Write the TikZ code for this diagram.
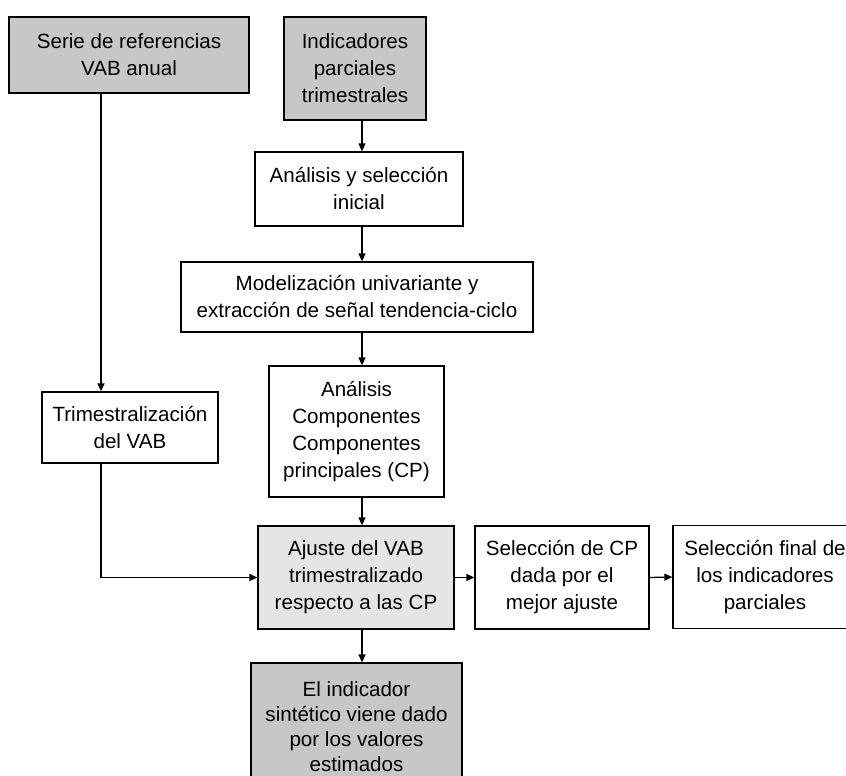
\documentclass[tikz,border=0pt]{standalone}
\usepackage{fontspec}
\setmainfont{Liberation Sans}
\usepackage{tikz}
\usetikzlibrary{arrows.meta}
\usetikzlibrary{positioning}

\begin{document}
\begin{tikzpicture}[->, >={Triangle[length=8pt, width=7pt]}, x=1pt, y=-1pt, line width=1.3pt,
	stepbox/.style={rectangle, draw, fill=white, align=center, inner sep=2pt,
				font=\fontsize{20.6}{27}\selectfont},
	refbox/.style={stepbox, fill=black!22},
	fitbox/.style={stepbox, fill=black!10},
]
\useasboundingbox (0,0) rectangle (846,776);
\clip (0,0) rectangle (846,776);
\coordinate (mid)  at (362,0);
\coordinate (side) at (101,0);
\node [refbox, minimum width=240pt, minimum height=76pt]  (serie)  at (129,55)      {Serie de referencias\\VAB anual};
\node [refbox, minimum width=142pt, minimum height=103pt] (indic)  at (355,68.5)    {Indicadores\\parciales\\trimestrales};
\node [stepbox, minimum width=208pt, minimum height=74pt] (anal)   at (359,189)     {Análisis y selección\\inicial};
\node [stepbox, minimum width=352pt, minimum height=70pt] (model)  at (357,297)     {Modelización univariante y\\extracción de señal tendencia-ciclo};
\node [stepbox, minimum width=175pt, minimum height=131pt] (acp)   at (356.5,431.5) {Análisis\\Componentes\\Componentes\\principales (CP)};
\node [stepbox, minimum width=176pt, minimum height=71pt] (trim)   at (130,427.5)   {Trimestralización\\del VAB};
\node [fitbox, minimum width=196pt, minimum height=103pt] (ajuste) at (356,577.5)   {Ajuste del VAB\\trimestralizado\\respecto a las CP};
\node [stepbox, minimum width=174pt, minimum height=103pt] (selcp) at (562,577.5)   {Selección de CP\\dada por el\\mejor ajuste};
\node [stepbox, minimum width=184pt, minimum height=103pt] (selfin) at (765,577)    {Selección final de\\los indicadores\\parciales};
\node [refbox, minimum width=211pt, minimum height=127pt, font=\fontsize{20.6}{25}\selectfont] (sint) at (356.5,726.5) {El indicador\\sintético viene dado\\por los valores\\estimados};
%
\draw (indic.south -| mid) -- (anal.north -| mid);
\draw (anal.south -| mid) -- (model.north -| mid);
\draw (model.south -| mid) -- (acp.north -| mid);
\draw (acp.south -| mid) -- (ajuste.north -| mid);
\draw (ajuste.south -| mid) -- (sint.north -| mid);
\draw (serie.south -| side) -- (trim.north -| side);
\draw (trim.south -| side) |- (ajuste.west);
\draw (ajuste.east) -- (selcp.west);
\draw (selcp.east) -- (selfin.west);
\end{tikzpicture}
\end{document}
